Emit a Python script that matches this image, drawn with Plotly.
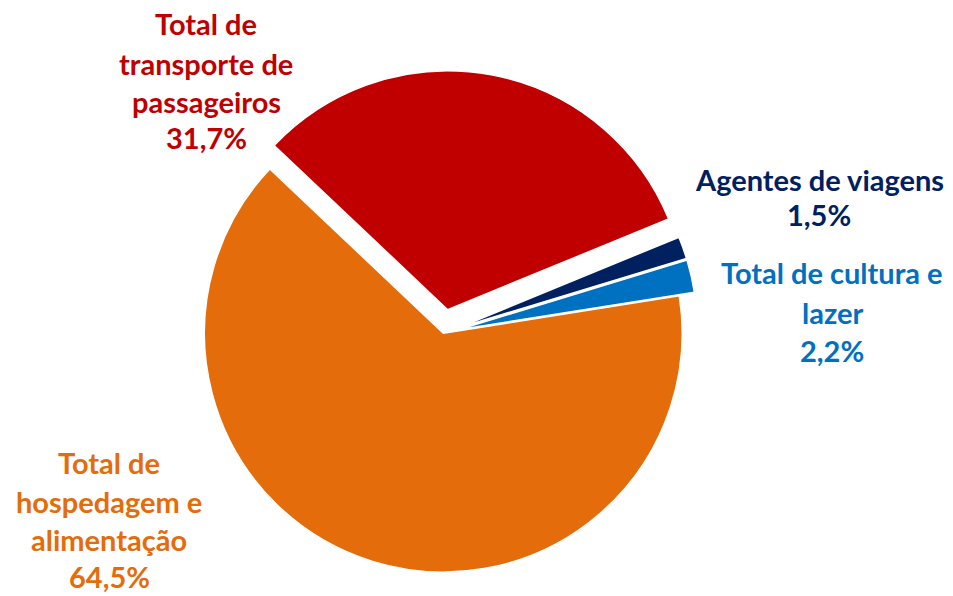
import plotly.graph_objects as go

labels = ["Total de hospedagem e alimentação", "Total de transporte de passageiros",
          "Agentes de viagens", "Total de cultura e lazer"]
values = [64.5, 31.7, 1.5, 2.2]
pct_text = ["64,5%", "31,7%", "1,5%", "2,2%"]
label_lines = [
    ["Total de", "hospedagem e", "alimentação"],
    ["Total de", "transporte de", "passageiros"],
    ["Agentes de viagens"],
    ["Total de cultura e", "lazer"],
]
colors = ["#E46C0A", "#C00000", "#002060", "#0070C0"]
pulls = [0.0, 0.10, 0.065, 0.065]

W, H = 953, 596
cx, cy, r = 443.3, 333.3, 239
half = r * (1 + max(pulls))

fig = go.Figure(go.Pie(
    labels=labels, values=values, sort=False, direction="clockwise",
    rotation=81.0, pull=pulls, textinfo="none", hoverinfo="label+percent",
    marker=dict(colors=colors, line=dict(color="white", width=1.5)),
    domain=dict(x=[(cx - half) / W, (cx + half) / W],
                y=[max(0, (H - cy - half) / H), (H - cy + half) / H]),
    showlegend=False,
))

# label layout: center x and text baselines (pixels)
label_x = [109, 206, 819, 832]
label_baselines = [
    [475, 515, 552, 589],
    [37, 76, 114, 151],
    [192, 227],
    [285, 325, 363],
]
FS = 29
for lines, pct, col, lx, bases in zip(label_lines, pct_text, colors, label_x, label_baselines):
    for txt, b in zip(lines + [pct], bases):
        fig.add_annotation(
            x=lx / W, y=1 - (b - 13) / H, xref="paper", yref="paper",
            text=txt, showarrow=False,
            xanchor="center", yanchor="middle", align="center",
            font=dict(family="Lato", size=FS, color=col, weight="bold"),
        )

fig.update_layout(width=W, height=H, margin=dict(l=0, r=0, t=0, b=0),
                  paper_bgcolor="white", plot_bgcolor="white")
fig.write_html("out.html", config={"displayModeBar": False},
               post_script="document.body.style.margin='0px';")
